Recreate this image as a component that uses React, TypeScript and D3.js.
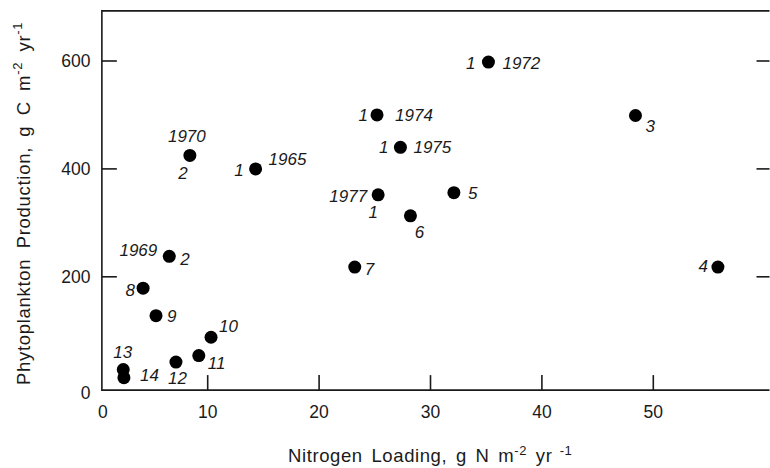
import React from "react";
import * as d3 from "d3";

// ---- data ----
const nitrogenLoading = [8.4, 14.3, 25.2, 27.3, 25.3, 35.2, 48.4, 32.1, 28.2, 55.8, 23.2, 6.55, 4.2, 5.36, 10.3, 9.2, 7.15, 2.42, 2.48];
const production = [425, 400, 500, 440, 352, 598, 499, 356, 313, 218, 218, 238, 179, 128, 88, 54, 42, 28, 13];
// labels for each point: [primary label, secondary label]
const primaryLabels = ["1970", "1", "1", "1", "1977", "1", "3", "5", "6", "4", "7", "1969", "8", "9", "10", "11", "12", "13", "14"];
const secondaryLabels = ["2", "1965", "1974", "1975", "1", "1972", "", "", "", "", "", "2", "", "", "", "", "", "", ""];
const xTicks = [0, 10, 20, 30, 40, 50];
const yTicks = [0, 200, 400, 600];

// ---- label layout (offsets from the point, px) ----
type Off = [number, number, string];
const primaryOffsets: Off[] = [
  [-3, -13, "middle"], [-12, 7, "end"], [-9, 6, "end"], [-12, 6, "end"], [-11, 7, "end"],
  [-13, 7, "end"], [10, 17, "start"], [14, 6, "start"], [9, 22, "middle"], [-10, 5, "end"],
  [10, 8, "start"], [-12, 0, "end"], [-8, 8, "end"], [11, 6, "start"], [8, -5, "start"],
  [9, 13, "start"], [-8, 22, "start"], [-10, -12, "start"], [16, 3, "start"],
];
const secondaryOffsets: Off[] = [
  [-7, 24, "middle"], [13, -4, "start"], [18, 6, "start"], [13, 6, "start"], [-5, 23, "middle"],
  [14, 7, "start"], [0, 0, "start"], [0, 0, "start"], [0, 0, "start"], [0, 0, "start"],
  [0, 0, "start"], [11, 9, "start"], [0, 0, "start"], [0, 0, "start"], [0, 0, "start"],
  [0, 0, "start"], [0, 0, "start"], [0, 0, "start"], [0, 0, "start"],
];

const W = 770;
const H = 468;
const FONT = "'Liberation Sans', Arial, Helvetica, sans-serif";
const INK = "#1a1a1a";

export default function App() {
  const x = d3.scaleLinear().domain([0, 50]).range([96.3, 653.3]);
  const y = d3.scaleLinear().domain([0, 600]).range([384.7, 61]);
  const left = x(0.5);
  const right = W - 0.5;
  const top = y(693);
  const bottom = y(-10);
  const tickLen = 15;

  return (
    <svg
      width={W}
      height={H}
      style={{ position: "absolute", left: 0, top: 0, background: "#fff" }}
      fontFamily={FONT}
    >
      <rect x={0} y={0} width={W} height={H} fill="#fff" />
      {/* frame */}
      <path
        d={`M${right},${top}H${left}V${bottom}H${right}`}
        fill="none"
        stroke={INK}
        strokeWidth={1.6}
      />
      {/* y ticks left and right */}
      {yTicks.map((t) => (
        <g key={"y" + t}>
          {t > 0 && (
            <line x1={left} x2={left + tickLen} y1={y(t)} y2={y(t)} stroke={INK} strokeWidth={1.6} />
          )}
          {t > 0 && (
            <line x1={right - 13} x2={right} y1={y(t)} y2={y(t)} stroke={INK} strokeWidth={1.6} />
          )}
          <text
            x={90.5}
            y={t === 0 ? y(t) + 7.5 : y(t)}
            dy="0.36em"
            textAnchor="end"
            fontSize={17.5}
            fill={INK}
          >
            {t}
          </text>
        </g>
      ))}
      {/* x ticks */}
      {xTicks.map((t) => (
        <g key={"x" + t}>
          {t > 0 && (
            <line x1={x(t)} x2={x(t)} y1={bottom} y2={bottom - tickLen} stroke={INK} strokeWidth={1.6} />
          )}
          <text
            x={t === 0 ? left + 1 : x(t)}
            y={418}
            textAnchor="middle"
            fontSize={17.5}
            fill={INK}
          >
            {t}
          </text>
        </g>
      ))}
      {/* axis titles */}
      <text x={288} y={462} fontSize={18.5} fill={INK} wordSpacing={3} letterSpacing={0.6}>
        Nitrogen Loading, g N m
        <tspan dy={-7.5} fontSize={13}>-2</tspan>
        <tspan dy={7.5}> yr</tspan>
        <tspan dy={-7.5} fontSize={13}> -1</tspan>
      </text>
      <text
        transform={`translate(29.5,385) rotate(-90)`}
        x={0}
        y={0}
        fontSize={18.5}
        fill={INK}
        wordSpacing={4.5}
        letterSpacing={0.7}
      >
        Phytoplankton Production, g C m
        <tspan dy={-7.5} fontSize={13}>-2</tspan>
        <tspan dy={7.5}> yr</tspan>
        <tspan dy={-7.5} fontSize={13}>-1</tspan>
      </text>
      {/* points */}
      {nitrogenLoading.map((n, i) => {
        const cx = x(n);
        const cy = y(production[i]);
        const p = primaryOffsets[i];
        const s = secondaryOffsets[i];
        return (
          <g key={"p" + i}>
            <circle cx={cx} cy={cy} r={6.5} fill="#000" />
            <text
              x={cx + p[0]}
              y={cy + p[1]}
              textAnchor={p[2] as any}
              fontSize={17}
              fontStyle="italic"
              fill={INK}
            >
              {primaryLabels[i]}
            </text>
            {secondaryLabels[i] && (
              <text
                x={cx + s[0]}
                y={cy + s[1]}
                textAnchor={s[2] as any}
                fontSize={17}
                fontStyle="italic"
                fill={INK}
              >
                {secondaryLabels[i]}
              </text>
            )}
          </g>
        );
      })}
    </svg>
  );
}
